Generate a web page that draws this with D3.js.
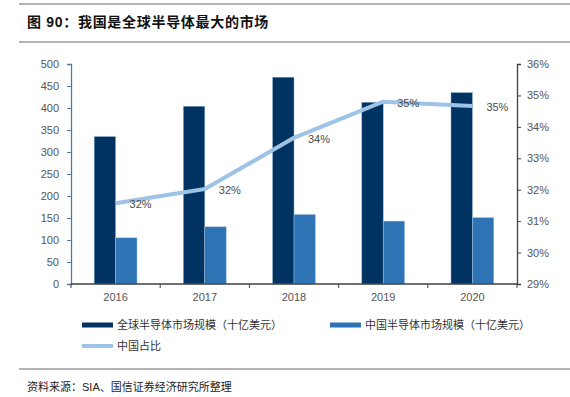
<!DOCTYPE html>
<html><head><meta charset="utf-8">
<script src="https://cdn.jsdelivr.net/npm/d3@7"></script>
<style>
body{margin:0;background:#fff;}
svg{display:block;}
</style></head>
<body>
<svg id="c" width="570" height="397"></svg>
<script>
const categories = ["2016","2017","2018","2019","2020"];
const globalMarket = [335, 404, 470, 413, 435];
const chinaMarket = [105, 130, 158, 143, 151];
const chinaShare = [31.57, 32.02, 33.65, 34.80, 34.66];
const leftTicks = [0,50,100,150,200,250,300,350,400,450,500];
const rightTicks = [29,30,31,32,33,34,35,36];
const seriesNames = ["全球半导体市场规模（十亿美元）","中国半导体市场规模（十亿美元）","中国占比"];
const titleText = "图 90：我国是全球半导体最大的市场";
const sourceText = "资料来源：SIA、国信证券经济研究所整理";

const svg = d3.select("#c");
const latin = "'Liberation Sans', Arial, sans-serif";
const cjk = "'Liberation Sans','Noto Sans CJK SC', sans-serif";
const cDark = "#003262", cMid = "#2E74B5", cLine = "#9DC3E6";

// rules
[4,42,369].forEach(y=>svg.append("line").attr("x1",19).attr("x2",570).attr("y1",y).attr("y2",y)
  .attr("stroke","#9a9a9a").attr("stroke-width",1.3));
svg.append("text").attr("x",27).attr("y",27).attr("font-family",cjk).attr("font-size",14)
  .attr("font-weight","bold").attr("letter-spacing",0.7).attr("fill","#111").text(titleText);
svg.append("text").attr("x",27).attr("y",391).attr("font-family",cjk).attr("font-size",11)
  .attr("fill","#222").text(sourceText);

const L=71, R=517, T=64, B=284;
const x0 = d3.scaleBand().domain(categories).range([L,R]).paddingInner(0.52).paddingOuter(0.26);
const x1 = d3.scaleBand().domain(["g","c"]).range([0,x0.bandwidth()]);
const y = d3.scaleLinear().domain([0,500]).range([B,T]);
const y2 = d3.scaleLinear().domain([29,36]).range([B,T]);

const g = svg.append("g");
categories.forEach((c,i)=>{
  g.append("rect").attr("x",x0(c)+x1("g")).attr("y",y(globalMarket[i]))
    .attr("width",x1.bandwidth()).attr("height",B-y(globalMarket[i]))
    .attr("fill",cDark).attr("stroke","#8fb0d0").attr("stroke-width",0.5);
  g.append("rect").attr("x",x0(c)+x1("c")).attr("y",y(chinaMarket[i]))
    .attr("width",x1.bandwidth()).attr("height",B-y(chinaMarket[i]))
    .attr("fill",cMid).attr("stroke","#a9c6e4").attr("stroke-width",0.5);
});

// axes
const la = svg.append("g").attr("transform",`translate(${L},0)`)
  .call(d3.axisLeft(y).tickValues(leftTicks).tickSize(4).tickPadding(8));
la.select(".domain").attr("stroke","#4f7aa6").attr("stroke-width",1.3);
la.selectAll(".tick line").attr("stroke","#4f7aa6");
la.selectAll("text").attr("font-family",latin).attr("font-size",11).attr("fill","#555");

const ra = svg.append("g").attr("transform",`translate(${R},0)`)
  .call(d3.axisRight(y2).tickValues(rightTicks).tickSize(4).tickPadding(6).tickFormat(d=>d+"%"));
ra.select(".domain").attr("stroke","#404040").attr("stroke-width",1.3);
ra.selectAll(".tick line").attr("stroke","#404040");
ra.selectAll("text").attr("font-family",latin).attr("font-size",11).attr("fill","#555");

// bottom axis
const ba = svg.append("g").attr("transform",`translate(0,${B})`);
ba.append("line").attr("x1",L).attr("x2",R).attr("stroke","#404040").attr("stroke-width",1.5);
const step = x0.step();
d3.range(categories.length+1).forEach(k=>{
  const xx = L + k*step;
  ba.append("line").attr("x1",xx).attr("x2",xx).attr("y1",0).attr("y2",4).attr("stroke","#404040");
});
categories.forEach(c=>{
  ba.append("text").attr("x",x0(c)+x0.bandwidth()/2).attr("y",17).attr("text-anchor","middle")
    .attr("font-family",latin).attr("font-size",11).attr("fill","#555").text(c);
});

// line
const px = c=>x0(c)+x0.bandwidth()/2;
const line = d3.line().x((d,i)=>px(categories[i])).y(d=>y2(d));
svg.append("path").datum(chinaShare).attr("d",line).attr("fill","none")
  .attr("stroke",cLine).attr("stroke-width",4).attr("stroke-linejoin","round");
const fmt = d3.format(".0%");
chinaShare.forEach((v,i)=>{
  svg.append("text").attr("x",px(categories[i])+25).attr("y",y2(v)+5).attr("text-anchor","middle")
    .attr("font-family",latin).attr("font-size",11).attr("fill","#4a4a4a").text(fmt(v/100));
});

// legend
const lg = svg.append("g");
const items = [
  {x:82,y:325,type:"bar",color:cDark,name:seriesNames[0]},
  {x:330,y:325,type:"bar",color:cMid,name:seriesNames[1]},
  {x:82,y:346,type:"line",color:cLine,name:seriesNames[2]}
];
items.forEach(it=>{
  if(it.type==="bar") lg.append("rect").attr("x",it.x).attr("y",it.y-2.5).attr("width",31).attr("height",5).attr("fill",it.color);
  else lg.append("line").attr("x1",it.x).attr("x2",it.x+31).attr("y1",it.y).attr("y2",it.y).attr("stroke",it.color).attr("stroke-width",4);
  lg.append("text").attr("x",it.x+35).attr("y",it.y+4).attr("font-family",cjk).attr("font-size",11)
    .attr("fill","#333").text(it.name);
});
</script>
</body></html>
